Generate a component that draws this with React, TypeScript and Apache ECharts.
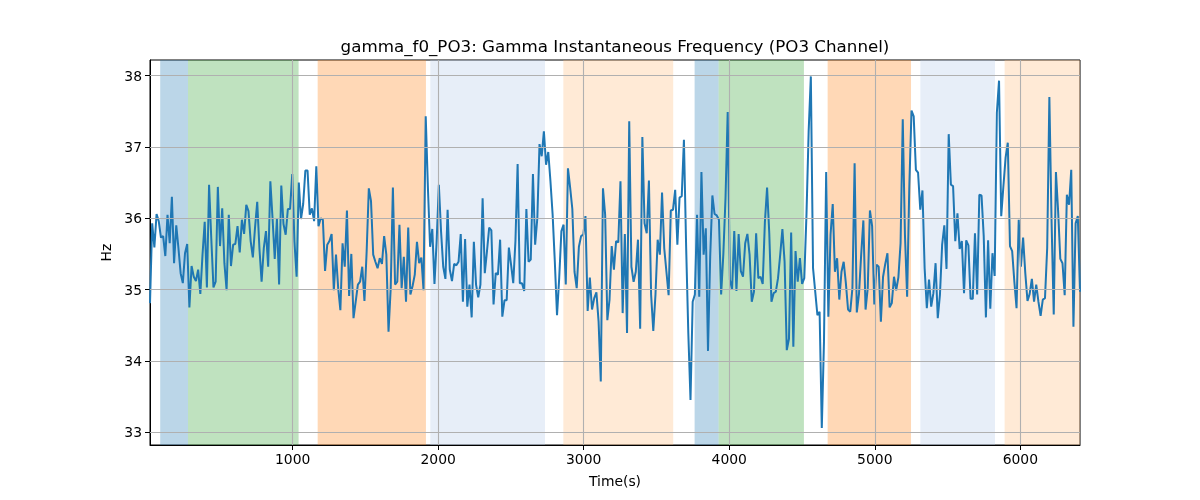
import React, { useEffect, useRef } from "react";
import * as echarts from "echarts";

const TITLE = "gamma_f0_PO3: Gamma Instantaneous Frequency (PO3 Channel)";
const TIME_START = 20;
const TIME_END = 6410;

const hzPart1 = [
  34.81, 35.93, 35.59, 36.06, 35.96, 35.73, 35.75, 35.47, 36.05, 35.65, 36.3, 35.37, 35.9, 35.58, 35.23,
  35.09, 35.51, 35.64, 34.75, 35.33, 35.18, 35.12, 35.28, 34.94, 35.49, 35.95, 35.03, 36.47, 35.72, 35.03,
  35.11, 36.44, 35.61, 36.14, 35.37, 34.99, 36.05, 35.33, 35.63, 35.64, 35.89, 35.52, 35.98, 35.78, 36.19,
  36.1, 35.68, 35.45, 35.87, 36.23, 35.58, 35.11, 35.58, 35.82, 35.32, 36.52, 36.0, 35.43, 35.99, 35.07,
  36.46, 35.92, 35.77, 36.13, 36.13, 36.62, 35.68, 35.18, 36.5, 35.99, 36.2, 36.67, 36.67,
];
const hzPart2 = [
  36.05, 36.14, 35.96, 36.73, 35.89, 36.0, 35.98, 35.26, 35.63, 35.68, 35.78, 34.99, 35.49, 35.02, 34.71,
  35.65, 35.32, 36.11, 34.91, 35.5, 34.6, 34.83, 35.07, 35.11, 35.32, 34.84, 35.53, 36.42, 36.24, 35.49,
  35.39, 35.3, 35.44, 35.36, 35.75, 35.49, 34.41, 35.02, 36.43, 35.07, 35.11, 35.91, 35.02, 35.46, 34.83,
  35.87, 34.93, 35.05, 35.21, 35.67, 35.37, 35.45, 34.99, 37.43, 36.43, 35.6, 35.85, 35.08, 35.68, 36.47,
  35.82, 35.32, 35.15, 36.12, 35.28, 35.12, 35.36, 35.34, 35.39, 35.78, 34.83,
];
const hzPart3 = [
  35.71, 34.76, 35.07, 34.61, 35.67, 35.07, 34.89, 35.07, 36.28, 35.23, 35.54, 35.87, 35.83, 34.79, 35.23,
  35.21, 35.7, 34.62, 34.85, 34.85, 35.59, 35.35, 35.09, 35.68, 36.76, 35.09, 35.09, 34.98, 36.13, 35.39,
  35.42, 36.62, 35.63, 36.0, 37.04, 36.87, 37.22, 36.75, 36.93, 36.52, 36.05, 35.39, 34.64, 35.16, 35.82,
  35.91, 35.07, 36.7, 36.43, 36.13, 35.25, 35.02, 35.6, 35.75, 35.77, 36.03, 34.7, 35.17, 34.72, 34.88,
  34.96, 34.55, 33.71, 36.42, 36.05, 34.57, 34.86, 35.61, 35.28, 35.68, 35.66,
];
const hzPart4 = [
  36.52, 34.67, 35.78, 34.39, 37.36, 35.32, 35.11, 35.25, 35.7, 34.45, 37.14, 35.93, 35.79, 36.53, 34.93,
  34.42, 34.93, 35.7, 35.49, 36.36, 35.58, 35.25, 34.92, 36.11, 36.12, 36.4, 35.63, 36.29, 36.31, 37.1,
  35.61, 34.39, 33.45, 34.83, 34.93, 36.05, 34.9, 36.65, 35.49, 35.86, 34.14, 35.46, 36.32, 36.06, 36.04,
  35.98, 34.93, 35.49, 36.28, 37.49, 35.14, 35.0, 35.82, 34.98, 35.78, 35.26, 35.18, 35.65, 35.78, 35.49,
  34.83, 34.97, 35.79, 35.16, 35.18, 35.08, 35.95, 36.43, 35.79, 34.83, 34.95,
];
const hzPart5 = [
  34.97, 35.16, 35.49, 35.85, 35.39, 34.15, 34.31, 35.8, 34.2, 35.54, 35.11, 35.44, 35.08, 35.16, 36.05,
  37.22, 37.99, 35.3, 34.97, 34.64, 34.69, 33.06, 34.27, 36.65, 34.62, 35.77, 36.2, 35.25, 35.44, 34.86,
  35.25, 35.39, 35.09, 34.72, 34.69, 35.02, 36.77, 34.68, 34.94, 35.49, 35.97, 34.72, 35.02, 36.11, 35.89,
  34.79, 35.35, 35.32, 34.55, 35.18, 35.36, 35.51, 34.75, 34.81, 35.18, 34.99, 35.17, 35.65, 37.39, 35.77,
  34.9, 36.45, 37.51, 37.43, 36.68, 36.64, 36.12, 36.39, 35.3, 34.74, 35.14,
];
const hzPart6 = [
  34.76, 34.95, 35.37, 34.6, 34.93, 35.63, 35.9, 35.29, 37.18, 36.47, 36.45, 35.68, 36.07, 35.57, 35.68,
  34.95, 35.69, 35.62, 34.87, 34.87, 35.79, 34.93, 36.33, 36.32, 35.75, 34.61, 35.69, 34.73, 35.51, 35.19,
  37.48, 37.93, 36.03, 36.45, 36.85, 37.06, 35.61, 35.54, 35.11, 34.74, 35.98, 35.32, 35.73, 35.23, 34.84,
  34.94, 35.15, 34.83, 35.07, 34.83, 34.63, 34.86, 34.88, 35.58, 37.7, 35.96, 34.65, 36.65, 36.1, 35.43,
  35.37, 34.92, 36.33, 36.19, 36.68, 34.48, 35.93, 36.03, 34.97,
];

const spanStarts = [90, 281, 1172, 1946, 2860, 3762, 3927, 4676, 5313, 5892];
const spanEnds = [281, 1041, 1916, 2734, 3615, 3927, 4513, 5249, 5826, 6410];
const spanColors = [
  "rgba(31,119,180,0.3)",
  "rgba(44,160,44,0.3)",
  "rgba(255,127,14,0.3)",
  "rgba(174,199,232,0.3)",
  "rgba(255,187,120,0.3)",
  "rgba(31,119,180,0.3)",
  "rgba(44,160,44,0.3)",
  "rgba(255,127,14,0.3)",
  "rgba(174,199,232,0.3)",
  "rgba(255,187,120,0.3)",
];

const xTicks = [1000, 2000, 3000, 4000, 5000, 6000];
const yTicks = [33, 34, 35, 36, 37, 38];
const Y_MIN = 32.82;
const Y_MAX = 38.22;

const FONT = "DejaVu Sans";

export default function App() {
  const ref = useRef<HTMLDivElement>(null);
  useEffect(() => {
    const chart = echarts.init(ref.current as HTMLDivElement, null, { renderer: "svg" });
    const values = [...hzPart1, ...hzPart2, ...hzPart3, ...hzPart4, ...hzPart5, ...hzPart6];
    const n = values.length;
    const step = (TIME_END - TIME_START) / (n - 1);
    const data = values.map((v, i) => [TIME_START + i * step, v]);

    const gridLines = [
      ...yTicks.map((v) => ({ yAxis: v })),
      ...xTicks.map((v) => ({ xAxis: v })),
    ];
    const areas = spanStarts.map((s, i) => [
      { xAxis: s, itemStyle: { color: spanColors[i] } },
      { xAxis: spanEnds[i] },
    ]);

    chart.setOption({
      animation: false,
      textStyle: { fontFamily: FONT },
      title: {
        text: TITLE,
        left: 615,
        top: 37,
        padding: 0,
        textAlign: "center",
        textStyle: { fontSize: 16.7, fontWeight: "normal", color: "#000", fontFamily: FONT },
      },
      grid: {
        left: 150,
        right: 120,
        top: 60,
        bottom: 55,
        show: true,
        borderColor: "#000",
        borderWidth: 1,
        backgroundColor: "transparent",
      },
      xAxis: {
        type: "value",
        min: TIME_START,
        max: TIME_END,
        name: "Time(s)",
        nameLocation: "middle",
        nameGap: 29,
        nameTextStyle: { fontSize: 13.9, color: "#000", fontFamily: FONT },
        axisLine: { show: true, onZero: false, lineStyle: { color: "#000", width: 1 } },
        axisTick: { show: true, inside: false, length: 5, customValues: xTicks, lineStyle: { color: "#000" } },
        axisLabel: {
          customValues: xTicks,
          fontSize: 13.9,
          color: "#000",
          margin: 7,
          fontFamily: FONT,
          formatter: (v: number) => String(v),
        },
        splitLine: { show: false },
      },
      yAxis: {
        type: "value",
        min: Y_MIN,
        max: Y_MAX,
        name: "Hz",
        nameLocation: "middle",
        nameGap: 34,
        nameTextStyle: { fontSize: 13.9, color: "#000", fontFamily: FONT },
        axisLine: { show: true, onZero: false, lineStyle: { color: "#000", width: 1 } },
        axisTick: { show: true, inside: false, length: 5, customValues: yTicks, lineStyle: { color: "#000" } },
        axisLabel: {
          customValues: yTicks,
          fontSize: 13.9,
          color: "#000",
          margin: 8,
          fontFamily: FONT,
          formatter: (v: number) => String(v),
        },
        splitLine: { show: false },
      },
      series: [
        {
          type: "line",
          data: [],
          z: 1,
          silent: true,
          markArea: { silent: true, data: areas },
        },
        {
          type: "line",
          data: [],
          z: 2,
          silent: true,
          markLine: {
            silent: true,
            symbol: ["none", "none"],
            label: { show: false },
            lineStyle: { color: "#b0b0b0", width: 1.1, type: "solid" },
            emphasis: { disabled: true },
            data: gridLines,
          },
        },
        {
          type: "line",
          data,
          z: 3,
          showSymbol: false,
          symbol: "none",
          lineStyle: { color: "#1f77b4", width: 2 },
          itemStyle: { color: "#1f77b4" },
        },
      ],
    });
    return () => chart.dispose();
  }, []);
  return <div ref={ref} style={{ position: "fixed", left: 0, top: 0, width: 1200, height: 500 }} />;
}
